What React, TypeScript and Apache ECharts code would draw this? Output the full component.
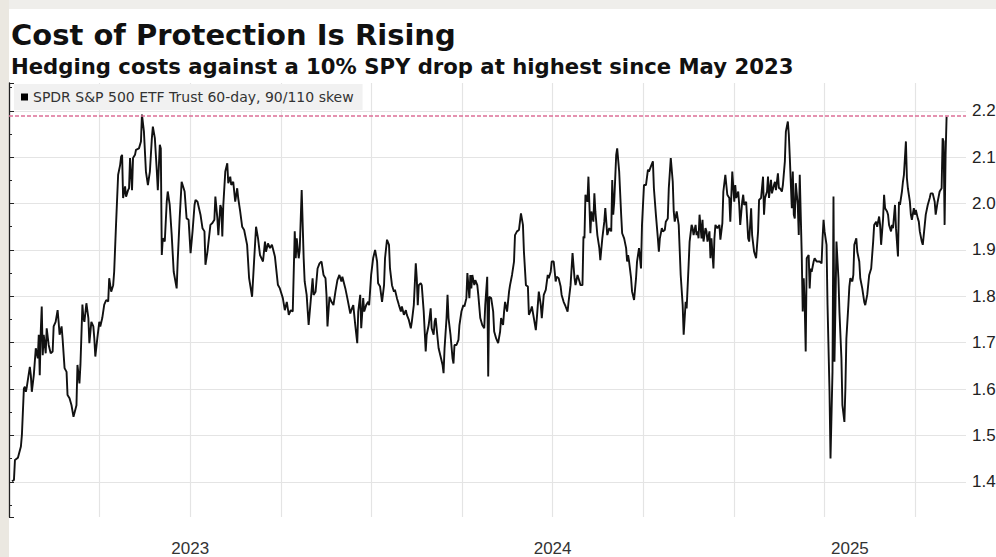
import React, { useEffect, useRef } from "react";
import * as echarts from "echarts";

const TITLE = "Cost of Protection Is Rising";
const SUBTITLE = "Hedging costs against a 10% SPY drop at highest since May 2023";
const SERIES_NAME = "SPDR S&P 500 ETF Trust 60-day, 90/110 skew";

// x axis: months since 2023-01-01 (days / DAYS_PER_MONTH)
const DAYS_PER_MONTH = 30.4375;
const X_MAX_MONTHS = 31.69;
const yearLabels = ["2023", "2024", "2025"];
const Y_MIN = 1.324;
const Y_MAX = 2.26;

// [days since 2023-01-01, skew]
const obs2023: [number, number][] = [
  [3,1.401],[5,1.404],[6,1.447],[9,1.452],[12,1.476],[13,1.501],[15,1.601],[16,1.605],[17,1.594],[18,1.605],[21,1.648],[22,1.630],[23,1.594],[25,1.630],[27,1.688],[29,1.666],[30,1.717],[31,1.630],[32,1.724],[33,1.778],[34,1.673],[35,1.717],[37,1.677],[38,1.731],[40,1.695],[42,1.677],[44,1.681],[45,1.735],[47,1.745],[49,1.770],[50,1.745],[51,1.717],[53,1.735],[54,1.709],[56,1.645],[58,1.637],[59,1.587],[61,1.580],[63,1.565],[65,1.540],[68,1.565],[69,1.652],[71,1.612],[72,1.652],[74,1.782],[75,1.753],[76,1.745],[78,1.785],[80,1.753],[81,1.699],[83,1.745],[85,1.735],[86,1.709],[87,1.670],[89,1.709],[91,1.745],[92,1.735],[94,1.753],[96,1.782],[98,1.792],[100,1.789],[101,1.839],[103,1.810],[105,1.824],[106,1.853],[108,1.961],[110,2.062],[112,2.083],[113,2.101],[114,2.105],[115,2.012],[117,2.037],[118,2.015],[120,2.029],[121,2.033],[122,2.098],[124,2.029],[125,2.098],[127,2.105],[128,2.116],[131,2.119],[133,2.134],[134,2.192],[136,2.155],[138,2.069],[140,2.040],[142,2.069],[144,2.141],[145,2.166],[147,2.141],[149,2.069],[150,2.029],[152,2.127],[153,2.119],[154,1.889],[155,1.925],[157,1.918],[159,2.004],[160,2.026],[162,1.997],[164,1.932],[166,1.853],[169,1.817],[170,1.875],[172,1.968],[174,2.047],[175,2.040],[177,2.026],[179,1.968],[181,1.965],[183,1.893],[185,1.940],[187,1.997],[188,2.008],[190,2.004],[193,1.976],[195,1.947],[197,1.940],[198,1.868],[200,1.896],[203,1.954],[205,1.958],[207,1.965],[208,2.015],[210,1.968],[211,1.932],[213,1.997],[214,1.990],[215,1.929],[216,1.997],[218,2.069],[220,2.087],[221,2.044],[223,2.058],[224,2.040],[226,2.047],[228,2.004],[230,2.033],[231,2.012],[233,1.983],[235,1.950],[237,1.943],[240,1.911],[242,1.839],[245,1.799],[247,1.875],[249,1.950],[251,1.925],[253,1.889],[256,1.875],[258,1.918],[259,1.896],[261,1.914],[263,1.904],[265,1.911],[268,1.886],[271,1.825],[273,1.817],[276,1.796],[278,1.770],[280,1.788],[282,1.760],[284,1.770],[286,1.767],[288,1.940],[289,1.882],[290,1.925],[292,1.882],[293,1.900],[295,2.029],[297,1.882],[298,1.832],[300,1.803],[302,1.738],[304,1.788],[306,1.839],[307,1.803],[309,1.810],[311,1.860],[313,1.871],[315,1.875],[317,1.846],[319,1.839],[320,1.803],[321,1.735],[323,1.799],[325,1.788],[327,1.781],[329,1.810],[331,1.835],[333,1.846],[335,1.832],[336,1.842],[339,1.817],[341,1.796],[344,1.763],[345,1.770],[347,1.781],[349,1.738],[351,1.699],[352,1.767],[354,1.803],[355,1.731],[357,1.796],[358,1.767],[360,1.781],[362,1.788],[363,1.781],
];

const obs2024: [number, number][] = [
  [365,1.846],[367,1.882],[369,1.900],[371,1.875],[372,1.828],[374,1.821],[376,1.788],[378,1.824],[379,1.882],[381,1.922],[383,1.911],[384,1.860],[386,1.824],[388,1.810],[389,1.814],[391,1.796],[393,1.781],[395,1.767],[396,1.778],[398,1.760],[400,1.770],[401,1.760],[403,1.749],[405,1.731],[406,1.745],[408,1.781],[410,1.871],[411,1.839],[412,1.781],[413,1.824],[415,1.828],[416,1.824],[418,1.767],[420,1.681],[421,1.717],[423,1.738],[425,1.774],[426,1.731],[428,1.717],[429,1.745],[430,1.753],[432,1.709],[433,1.688],[435,1.670],[437,1.652],[438,1.634],[439,1.688],[441,1.753],[442,1.803],[443,1.753],[445,1.717],[447,1.667],[448,1.655],[449,1.695],[451,1.695],[453,1.706],[454,1.738],[456,1.767],[458,1.781],[459,1.778],[461,1.796],[462,1.850],[463,1.824],[464,1.796],[465,1.846],[466,1.817],[467,1.846],[469,1.824],[470,1.835],[472,1.824],[473,1.803],[475,1.753],[477,1.738],[479,1.731],[480,1.781],[482,1.842],[483,1.627],[484,1.799],[486,1.796],[488,1.767],[489,1.724],[491,1.709],[493,1.699],[495,1.724],[496,1.753],[498,1.738],[499,1.767],[500,1.788],[502,1.767],[504,1.810],[505,1.824],[507,1.846],[509,1.875],[510,1.932],[512,1.940],[514,1.943],[515,1.961],[516,1.979],[518,1.954],[519,1.896],[521,1.824],[523,1.821],[524,1.760],[526,1.770],[527,1.778],[529,1.753],[531,1.727],[532,1.753],[534,1.810],[536,1.781],[537,1.753],[539,1.803],[541,1.814],[543,1.846],[544,1.839],[546,1.853],[547,1.875],[549,1.875],[551,1.832],[552,1.842],[554,1.839],[556,1.821],[557,1.803],[559,1.788],[561,1.778],[563,1.767],[564,1.788],
  [566,1.824],[568,1.893],[570,1.839],[571,1.824],[573,1.846],[575,1.832],[576,1.824],[578,1.824],[579,1.929],[580,1.925],[581,2.019],[583,2.004],[584,2.058],[585,1.997],[586,1.936],[587,1.983],[589,1.961],[590,2.022],[591,1.983],[593,1.932],[595,1.904],[596,1.878],[598,1.925],[600,1.961],[601,1.990],[603,1.932],[605,1.947],[607,1.940],[608,2.051],[609,1.976],[610,2.004],[612,2.105],[613,2.119],[615,2.069],[617,1.976],[618,1.936],[620,1.925],[622,1.904],[623,1.875],[624,1.889],[625,1.875],[627,1.839],[628,1.810],[630,1.792],[632,1.839],[633,1.875],[635,1.904],[637,1.860],[638,1.954],[640,2.040],[642,2.040],[644,2.073],[645,2.069],[647,2.080],[649,2.091],[650,2.033],[652,1.976],[654,1.925],[655,1.896],[656,1.925],[658,1.947],[659,1.940],[661,1.943],[662,1.961],[664,1.968],[665,2.033],[667,2.098],[669,2.047],[670,1.983],[671,1.961],[673,1.983],[674,1.968],[675,1.954],[677,1.846],[679,1.781],[680,1.717],[682,1.788],[683,1.774],[685,1.868],[686,1.918],[688,1.954],[689,1.947],[690,1.932],[692,1.954],[693,1.932],[694,1.940],[695,1.925],[696,1.976],[698,1.925],[699,1.965],[700,1.918],[702,1.947],[703,1.940],[704,1.918],[706,1.940],[707,1.882],[708,1.925],[710,1.860],[711,1.925],[712,1.954],[714,1.947],[716,1.954],[717,1.922],[719,1.958],[720,2.026],[722,2.062],[723,2.040],[724,2.019],[726,2.012],[727,1.961],[729,2.069],
];

const obs2025: [number, number][] = [
  [731,2.004],[732,2.040],[733,2.012],[735,2.026],[736,1.997],[737,1.954],[739,2.004],[740,2.019],[741,1.997],[743,2.004],[745,1.925],[746,1.918],[748,1.990],[749,1.932],[751,1.896],[753,1.882],[755,1.940],[756,2.008],[758,2.012],[760,2.058],[761,1.976],[762,2.012],[764,2.026],[765,2.058],[766,2.012],[768,2.051],[769,2.022],[771,2.040],[772,2.047],[773,2.029],[775,2.065],[776,2.033],[777,2.033],[779,2.026],[780,2.040],[782,2.091],[783,2.155],[785,2.177],[786,2.148],[787,2.098],[789,1.990],[790,2.069],[791,1.976],[792,1.968],[793,2.044],[795,1.997],[796,1.932],[797,2.062],[799,1.889],[800,1.767],[801,1.839],[802,1.781],[803,1.681],[804,1.882],[806,1.889],[807,1.817],[808,1.860],[809,1.853],[811,1.875],[812,1.882],[814,1.875],[815,1.875],[817,1.875],[819,1.871],[820,1.925],[821,1.965],[822,1.940],[824,1.911],[825,1.781],[827,1.594],[828,1.450],[830,1.637],[831,2.015],[832,1.659],[833,1.781],[834,1.918],[836,1.839],[837,1.767],[839,1.666],[840,1.565],[842,1.529],[843,1.601],[844,1.709],[846,1.781],[847,1.821],[848,1.839],[850,1.832],[851,1.846],[852,1.911],[854,1.925],[855,1.896],[857,1.875],[858,1.839],[860,1.817],[862,1.788],[863,1.781],[865,1.803],[867,1.846],[869,1.860],[871,1.918],[872,1.954],[874,1.961],[875,1.950],[877,1.972],[878,1.954],[879,1.911],[881,1.968],[882,2.019],[883,1.990],[885,1.983],[886,1.976],[887,1.954],[889,1.940],[890,1.954],[891,1.947],[893,1.997],[894,1.947],[896,1.886],[897,2.004],[898,1.997],[900,2.026],[901,2.047],[902,2.062],[904,2.134],[905,2.055],[906,2.033],[908,2.004],[909,1.976],[910,1.965],[912,1.990],[913,1.976],[914,1.986],[916,1.968],[917,1.961],[918,1.940],[920,1.918],[921,1.911],[923,1.954],[924,1.976],[926,1.997],[928,2.012],[929,2.022],[931,2.022],[933,2.004],[934,1.976],[936,2.004],[938,2.026],[940,2.033],[941,2.141],[942,2.134],[943,1.954],[944,2.105],[945,2.187],
];

export default function App() {
  const ref = useRef<HTMLDivElement>(null);

  useEffect(() => {
    document.body.style.margin = "0";
    if (!ref.current) return;
    const chart = echarts.init(ref.current, null, { renderer: "svg" });

    const all = [...obs2023, ...obs2024, ...obs2025];
    const data = all.map(([d, v]) => [d / DAYS_PER_MONTH, v]);
    const lastValue = all[all.length - 1][1];
    const yearCenters = yearLabels.map((_, i) => {
      const s = i * 12;
      const e = Math.min((i + 1) * 12, X_MAX_MONTHS);
      return (s + e) / 2;
    });

    chart.setOption({
      animation: false,
      backgroundColor: "#ffffff",
      title: [
        {
          text: TITLE,
          left: 11,
          top: 21,
          padding: 0,
          textStyle: {
            fontFamily: "DejaVu Sans",
            fontWeight: "bold",
            fontSize: 29,
            lineHeight: 28,
            color: "#111",
          },
        },
        {
          text: SUBTITLE,
          left: 11,
          top: 55,
          padding: 0,
          textStyle: {
            fontFamily: "DejaVu Sans",
            fontWeight: "bold",
            fontSize: 21.2,
            lineHeight: 22,
            color: "#111",
          },
        },
      ],
      legend: {
        left: 14,
        top: 84,
        backgroundColor: "#f1f1f1",
        padding: [6, 9, 6, 7],
        icon: "rect",
        itemWidth: 7,
        itemHeight: 7,
        itemGap: 4,
        textStyle: { fontFamily: "DejaVu Sans", fontSize: 14, color: "#333" },
        data: [{ name: SERIES_NAME, itemStyle: { color: "#000" } }],
      },
      graphic: [
        { type: "rect", shape: { x: 0, y: 0, width: 996, height: 9 }, style: { fill: "#efeeeb" }, z: 0 },
        { type: "rect", shape: { x: 0, y: 0, width: 9, height: 557 }, style: { fill: "#ebe8e1" }, z: 0 },
      ],
      grid: { left: 9, right: 30, top: 83, bottom: 40, containLabel: false, outerBoundsMode: "none" },
      xAxis: {
        type: "value",
        min: 0,
        max: X_MAX_MONTHS,
        interval: 3,
        axisLine: { show: false },
        axisTick: { show: false },
        splitLine: {
          show: true,
          showMinLine: false,
          showMaxLine: false,
          lineStyle: { color: "#e4e4e4", width: 1.2 },
        },
        axisLabel: {
          customValues: yearCenters,
          formatter: (v: number) => yearLabels[Math.min(yearLabels.length - 1, Math.floor(v / 12))],
          fontFamily: "Liberation Sans",
          fontSize: 17,
          color: "#333",
          margin: 23,
        },
      },
      yAxis: {
        type: "value",
        position: "right",
        min: Y_MIN,
        max: Y_MAX,
        splitNumber: 9,
        axisLine: { show: true, lineStyle: { color: "#222", width: 1.3 } },
        axisTick: { show: true, length: 5, lineStyle: { color: "#222" } },
        minorTick: { show: true, splitNumber: 2, length: 3, lineStyle: { color: "#222" } },
        splitLine: {
          show: true,
          showMinLine: false,
          showMaxLine: false,
          lineStyle: { color: "#e4e4e4", width: 1.2 },
        },
        axisLabel: {
          showMinLabel: false,
          showMaxLabel: false,
          fontFamily: "Liberation Sans",
          fontSize: 17,
          color: "#222",
          margin: 6,
          formatter: (v: number) =>
            Math.abs(v * 10 - Math.round(v * 10)) < 0.001 ? v.toFixed(1) : "",
        },
      },
      series: [
        {
          name: SERIES_NAME,
          type: "line",
          data,
          showSymbol: false,
          symbol: "none",
          lineStyle: { color: "#111", width: 1.9 },
          itemStyle: { color: "#000" },
          z: 3,
          markLine: {
            silent: true,
            symbol: "none",
            label: { show: false },
            lineStyle: { color: "#dd6f97", type: [4, 2], width: 1.5 },
            data: [{ yAxis: lastValue }],
          },
        },
      ],
    });

    return () => chart.dispose();
  }, []);

  return (
    <div
      ref={ref}
      style={{ position: "absolute", left: 0, top: 0, width: 996, height: 557, background: "#fff" }}
    />
  );
}
